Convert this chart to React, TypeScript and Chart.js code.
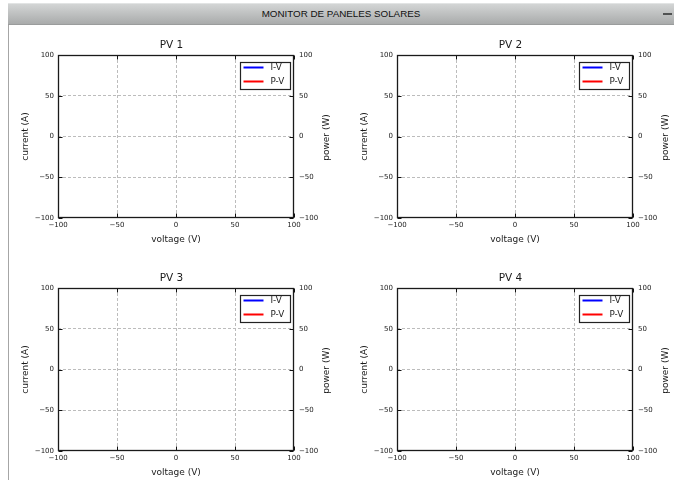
import React, { useEffect, useRef } from 'react';
import { Chart, registerables } from 'chart.js';

Chart.register(...registerables);

// ---- data ----
const windowTitle = 'MONITOR DE PANELES SOLARES';
const panelTitles = ['PV 1', 'PV 2', 'PV 3', 'PV 4'];
const seriesLabels = ['I-V', 'P-V'];
const seriesColors = ['#0000ff', '#ff0000'];
const ivPoints: { x: number; y: number }[] = [];
const pvPoints: { x: number; y: number }[] = [];
const voltageTicks = [-100, -50, 0, 50, 100];
const currentTicks = [-100, -50, 0, 50, 100];
const powerTicks = [-100, -50, 0, 50, 100];
const xAxisLabel = 'voltage (V)';
const yAxisLabel = 'current (A)';
const y2AxisLabel = 'power (W)';

// ---- layout ----
const CW = 327;
const CH = 225;
const panelPos = [
  { left: 8, top: 30 },
  { left: 347, top: 30 },
  { left: 8, top: 263 },
  { left: 347, top: 263 },
];
const FONT = "'DejaVu Sans', sans-serif";
const TEXT = '#1a1a1a';
const GRID = '#bcbcbc';

const fmt = (v: number | string) => {
  const n = Number(v);
  return n < 0 ? '\u2212' + Math.abs(n) : String(n);
};

const decorPlugin = {
  id: 'mplDecor',
  afterDraw(chart: any) {
    const { ctx, chartArea: a, scales } = chart;
    const L = Math.round(a.left) + 0.5;
    const R = Math.round(a.right) - 0.5;
    const T = Math.round(a.top) + 0.5;
    const B = Math.round(a.bottom) - 0.5;
    ctx.save();
    // inward ticks
    ctx.strokeStyle = '#111';
    ctx.lineWidth = 1;
    ctx.beginPath();
    scales.x.ticks.forEach((t: any) => {
      const px = Math.round(scales.x.getPixelForValue(t.value)) + 0.5;
      ctx.moveTo(px, B);
      ctx.lineTo(px, B - 4);
      ctx.moveTo(px, T);
      ctx.lineTo(px, T + 4);
    });
    scales.y.ticks.forEach((t: any) => {
      const py = Math.round(scales.y.getPixelForValue(t.value)) + 0.5;
      ctx.moveTo(L, py);
      ctx.lineTo(L + 4, py);
    });
    scales.y2.ticks.forEach((t: any) => {
      const py = Math.round(scales.y2.getPixelForValue(t.value)) + 0.5;
      ctx.moveTo(R, py);
      ctx.lineTo(R - 4, py);
    });
    ctx.stroke();
    // frame
    ctx.strokeStyle = '#1a1a1a';
    ctx.lineWidth = 1.3;
    ctx.strokeRect(L, T, R - L, B - T);

    // legend
    const bw = 50;
    const bh = 27;
    const bx = Math.round(a.right) - 4 - bw + 0.5;
    const by = Math.round(a.top) + 7 + 0.5;
    ctx.fillStyle = '#ffffff';
    ctx.fillRect(bx, by, bw, bh);
    ctx.strokeStyle = '#222';
    ctx.lineWidth = 1.2;
    ctx.strokeRect(bx, by, bw, bh);
    ctx.font = `8.8px ${FONT}`;
    ctx.textBaseline = 'middle';
    ctx.textAlign = 'left';
    chart.data.datasets.forEach((ds: any, i: number) => {
      const ly = by + 5 + i * 14;
      ctx.strokeStyle = ds.borderColor;
      ctx.lineWidth = 2;
      ctx.beginPath();
      ctx.moveTo(bx + 3, ly);
      ctx.lineTo(bx + 23, ly);
      ctx.stroke();
      ctx.fillStyle = TEXT;
      ctx.fillText(ds.label, bx + 30, ly + 0.5);
    });

    // right axis title (reads bottom-to-top like matplotlib)
    ctx.save();
    ctx.translate(a.right + 32.5, (a.top + a.bottom) / 2 + 1);
    ctx.rotate(-Math.PI / 2);
    ctx.font = `9px ${FONT}`;
    ctx.fillStyle = TEXT;
    ctx.textAlign = 'center';
    ctx.textBaseline = 'middle';
    ctx.fillText(y2AxisLabel, 0, 0);
    ctx.restore();

    ctx.restore();
  },
};

function Panel({ index }: { index: number }) {
  const ref = useRef<HTMLCanvasElement | null>(null);
  useEffect(() => {
    if (!ref.current) return;
    const tickFont = { size: 7, family: FONT };
    const gridColor = (c: any) =>
      c.tick && Math.abs(c.tick.value) === 100 ? 'rgba(0,0,0,0)' : GRID;
    const chart = new Chart(ref.current, {
      type: 'scatter',
      data: {
        datasets: [
          {
            label: seriesLabels[0],
            data: ivPoints,
            borderColor: seriesColors[0],
            backgroundColor: seriesColors[0],
            showLine: true,
            pointRadius: 0,
            yAxisID: 'y',
          },
          {
            label: seriesLabels[1],
            data: pvPoints,
            borderColor: seriesColors[1],
            backgroundColor: seriesColors[1],
            showLine: true,
            pointRadius: 0,
            yAxisID: 'y2',
          },
        ],
      },
      options: {
        responsive: false,
        animation: false,
        devicePixelRatio: 1,
        layout: { padding: 0 },
        plugins: {
          legend: { display: false },
          tooltip: { enabled: false },
          title: {
            display: true,
            text: panelTitles[index],
            color: TEXT,
            font: { size: 10.5, family: FONT, weight: 'normal' as any },
            padding: { top: 9, bottom: 3.4 },
          },
        },
        scales: {
          x: {
            type: 'linear',
            position: 'bottom',
            min: -100,
            max: 100,
            afterBuildTicks: (s: any) => {
              s.ticks = voltageTicks.map((v) => ({ value: v }));
            },
            afterFit: (s: any) => {
              s.height = 37;
            },
            ticks: {
              font: tickFont,
              color: TEXT,
              padding: 2.5,
              maxRotation: 0,
              autoSkip: false,
              callback: fmt,
            },
            grid: { color: gridColor, lineWidth: 1, drawTicks: false },
            border: { display: false, dash: [3, 2] },
            title: {
              display: true,
              text: xAxisLabel,
              color: TEXT,
              font: { size: 9, family: FONT },
              padding: { top: 0, bottom: 9.6 },
            },
          },
          y: {
            type: 'linear',
            position: 'left',
            min: -100,
            max: 100,
            afterBuildTicks: (s: any) => {
              s.ticks = currentTicks.map((v) => ({ value: v }));
            },
            afterFit: (s: any) => {
              s.width = 50;
            },
            ticks: {
              font: tickFont,
              color: TEXT,
              padding: 4,
              autoSkip: false,
              callback: fmt,
            },
            grid: { color: gridColor, lineWidth: 1, drawTicks: false },
            border: { display: false, dash: [3, 2] },
            title: {
              display: true,
              text: yAxisLabel,
              color: TEXT,
              font: { size: 9, family: FONT },
              padding: { top: 12, bottom: 0 },
            },
          },
          y2: {
            type: 'linear',
            position: 'right',
            min: -100,
            max: 100,
            afterBuildTicks: (s: any) => {
              s.ticks = powerTicks.map((v) => ({ value: v }));
            },
            afterFit: (s: any) => {
              s.width = 41;
            },
            ticks: {
              font: tickFont,
              color: TEXT,
              padding: 5,
              autoSkip: false,
              callback: fmt,
            },
            grid: { display: false, drawOnChartArea: false, drawTicks: false },
            border: { display: false },
            title: { display: false },
          },
        },
      } as any,
      plugins: [decorPlugin],
    });
    return () => chart.destroy();
  }, [index]);
  const p = panelPos[index];
  return (
    <canvas
      ref={ref}
      width={CW}
      height={CH}
      style={{ position: 'absolute', left: p.left, top: p.top, width: CW, height: CH }}
    />
  );
}

export default function App() {
  return (
    <div
      style={{
        position: 'fixed',
        left: 0,
        top: 0,
        width: 674,
        height: 481,
        overflow: 'hidden',
        background: '#ffffff',
      }}
    >
      <div
        style={{
          position: 'absolute',
          left: 8,
          top: 3,
          width: 666,
          height: 22,
          boxSizing: 'border-box',
          borderTop: '1px solid #e2e4e4',
          borderBottom: '1px solid #9a9c9c',
          background: 'linear-gradient(#d3d5d5, #a9abab)',
          color: '#111',
          font: '9.8px "Liberation Sans", Arial, sans-serif',
          lineHeight: '20px',
          textAlign: 'center',
        }}
      >
        {windowTitle}
        <div
          style={{
            position: 'absolute',
            right: 2,
            top: 9,
            width: 9,
            height: 2,
            background: '#505252',
          }}
        />
      </div>
      <div
        style={{
          position: 'absolute',
          left: 8,
          top: 25,
          width: 1,
          height: 455,
          background: '#a6a6a6',
        }}
      />
      {panelTitles.map((_, i) => (
        <Panel key={i} index={i} />
      ))}
    </div>
  );
}
